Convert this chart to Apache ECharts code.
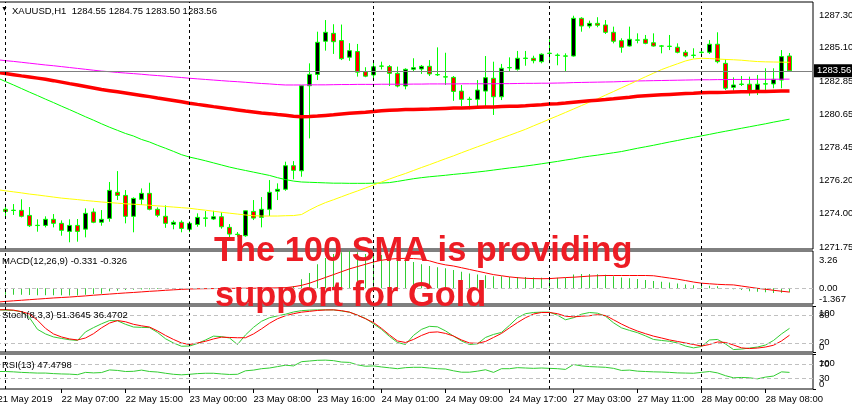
<!DOCTYPE html>
<html><head><meta charset="utf-8">
<script src="https://cdn.jsdelivr.net/npm/echarts/dist/echarts.min.js"></script>
<style>html,body{margin:0;padding:0;background:#fff}#c{width:852px;height:410px}</style>
</head><body><div id="c"></div>
<script>
// ---------- time axis ----------
const sessionDays  = ['21 May','22 May','23 May','24 May','27 May','28 May'];
const sessionHours = [[22,22],[0,22],[0,22],[0,21],[0,18],[0,11]];
const firstLabel = '21 May 2019';
const separatorCats = ['22 May 00:00','23 May 00:00','24 May 00:00','27 May 00:00','28 May 00:00'];
const categories = [];
sessionDays.forEach((d, j) => {
  for (let h = sessionHours[j][0]; h <= sessionHours[j][1]; h++) categories.push(d + ' ' + String(h).padStart(2,'0') + ':00');
});
categories.push(' ', '  '); // chart shift (empty space on the right)

// ---------- XAUUSD H1 candles [open, high, low, close] (from 22 May 00:00) ----------
const ohlc = [
[1274.28,1274.45,1273.74,1274.14],[1274.20,1274.63,1273.90,1274.22],[1274.21,1274.95,1273.74,1273.81],[1273.87,1274.43,1273.09,1273.18],
[1273.19,1273.61,1272.78,1273.21],[1273.20,1273.81,1273.07,1273.61],[1273.61,1273.96,1273.07,1273.34],[1273.34,1273.54,1272.51,1272.87],
[1272.80,1273.61,1272.07,1273.20],[1273.20,1273.63,1272.11,1272.80],[1272.95,1274.34,1272.40,1274.01],[1274.10,1274.34,1273.35,1273.41],
[1273.41,1274.23,1273.18,1273.61],[1273.67,1276.11,1273.45,1275.55],[1275.42,1276.84,1274.90,1275.21],[1275.21,1275.57,1273.34,1273.81],
[1273.81,1275.08,1272.74,1275.01],[1274.95,1275.68,1274.57,1275.35],[1275.35,1276.06,1274.21,1274.28],[1274.28,1274.41,1273.75,1273.88],
[1273.81,1274.54,1273.04,1273.34],[1273.27,1273.54,1272.94,1273.41],[1273.41,1273.54,1272.74,1273.00],[1272.94,1273.47,1272.74,1273.34],
[1273.26,1274.01,1273.11,1273.74],[1273.68,1274.16,1273.11,1273.70],[1273.63,1274.18,1273.56,1273.78],[1273.78,1274.08,1272.98,1273.11],
[1273.07,1273.29,1272.40,1272.62],[1272.61,1272.76,1272.44,1272.59],[1272.51,1274.20,1272.44,1274.18],[1274.14,1274.90,1273.56,1273.69],
[1273.74,1275.10,1273.07,1274.28],[1274.28,1276.24,1273.83,1275.42],[1275.49,1276.02,1274.90,1275.62],[1275.62,1277.47,1275.52,1277.20],
[1277.20,1277.51,1276.29,1276.89],[1276.86,1282.60,1276.46,1282.56],[1282.56,1284.06,1279.03,1283.32],[1283.32,1286.18,1282.94,1285.47],
[1285.54,1286.96,1284.91,1286.14],[1286.07,1286.68,1284.69,1285.51],[1285.59,1286.66,1284.28,1284.37],[1284.47,1285.41,1284.23,1284.91],
[1284.85,1285.36,1283.17,1283.47],[1283.50,1283.80,1283.13,1283.20],[1283.28,1284.14,1283.00,1283.83],[1283.88,1284.17,1283.65,1283.87],
[1283.84,1283.95,1282.54,1283.39],[1283.39,1283.84,1282.45,1282.54],[1282.54,1283.73,1282.32,1283.66],[1283.66,1284.40,1283.50,1283.77],
[1283.68,1283.95,1283.35,1283.86],[1283.86,1284.28,1283.21,1283.35],[1283.31,1285.13,1283.21,1283.29],[1283.16,1284.77,1282.61,1283.14],
[1283.12,1283.21,1281.55,1282.18],[1282.20,1282.61,1281.20,1281.65],[1281.64,1281.82,1280.98,1281.66],[1281.65,1282.94,1281.15,1282.27],
[1282.20,1284.55,1281.20,1283.10],[1283.06,1284.17,1280.60,1281.82],[1281.82,1284.02,1281.60,1283.73],[1283.76,1284.46,1283.50,1283.78],
[1283.66,1284.89,1283.57,1284.40],[1284.39,1284.89,1283.90,1284.41],[1284.40,1284.57,1284.06,1284.24],[1284.17,1284.73,1284.06,1284.67],
[1284.72,1285.67,1284.06,1284.74],[1284.59,1284.73,1283.93,1284.61],[1284.56,1284.73,1283.50,1284.54],[1284.55,1287.25,1284.51,1287.08],
[1287.08,1287.15,1286.18,1286.56],[1286.56,1286.92,1286.41,1286.74],[1286.74,1287.15,1286.48,1286.61],[1286.63,1286.96,1286.03,1286.14],
[1286.14,1286.52,1285.40,1285.54],[1285.58,1285.74,1284.77,1285.14],[1285.22,1286.52,1285.18,1285.67],[1285.61,1286.07,1285.40,1285.63],
[1285.67,1285.96,1285.34,1285.40],[1285.44,1286.07,1285.18,1285.22],[1285.23,1285.29,1284.73,1285.21],[1285.19,1285.96,1284.95,1285.21],
[1285.14,1285.40,1284.73,1284.80],[1284.80,1284.95,1284.46,1284.55],[1284.61,1285.07,1284.40,1284.59],[1284.79,1285.07,1284.69,1284.81],
[1284.80,1285.62,1284.69,1285.34],[1285.34,1286.14,1284.06,1284.17],[1284.06,1284.33,1282.27,1282.39],[1282.45,1283.12,1282.23,1282.61],
[1282.65,1283.21,1282.54,1282.67],[1282.66,1283.17,1281.89,1282.25],[1282.25,1283.28,1281.94,1282.66],[1282.67,1283.73,1282.27,1282.69],
[1282.68,1283.73,1282.39,1282.99],[1282.94,1284.95,1282.39,1284.51],[1284.55,1284.75,1283.50,1283.56]
];
const bidPrice = 1283.56;
const headerText = 'XAUUSD,H1  1284.55 1284.75 1283.50 1283.56';

// ---------- moving averages (from 21 May 22:00) ----------
const maMagenta = [
1284.30,1284.24,1284.19,1284.13,1284.07,1284.01,1283.95,1283.90,1283.84,1283.78,
1283.72,1283.66,1283.60,1283.54,1283.50,1283.45,1283.41,1283.37,1283.33,1283.28,
1283.24,1283.20,1283.15,1283.11,1283.06,1283.02,1282.98,1282.94,1282.90,1282.86,
1282.83,1282.79,1282.75,1282.71,1282.68,1282.64,1282.61,1282.61,1282.61,1282.62,
1282.62,1282.62,1282.63,1282.64,1282.64,1282.65,1282.65,1282.65,1282.66,1282.66,
1282.66,1282.66,1282.67,1282.67,1282.68,1282.68,1282.68,1282.68,1282.69,1282.69,
1282.69,1282.69,1282.69,1282.70,1282.70,1282.71,1282.72,1282.72,1282.73,1282.73,
1282.74,1282.75,1282.77,1282.78,1282.79,1282.80,1282.81,1282.82,1282.84,1282.86,
1282.88,1282.89,1282.90,1282.91,1282.92,1282.93,1282.94,1282.95,1282.96,1282.96,
1282.97,1282.97,1282.98,1282.98,1282.98,1282.99,1282.99,1282.99,1283.00,1283.00];
const sma100 = [
1283.46,1283.38,1283.30,1283.22,1283.15,1283.07,1282.99,1282.90,1282.80,1282.70,
1282.61,1282.51,1282.41,1282.31,1282.23,1282.15,1282.07,1281.99,1281.91,1281.83,
1281.74,1281.66,1281.57,1281.48,1281.39,1281.31,1281.24,1281.16,1281.09,1281.01,
1280.94,1280.86,1280.80,1280.74,1280.69,1280.63,1280.58,1280.52,1280.48,1280.50,
1280.53,1280.57,1280.61,1280.66,1280.71,1280.75,1280.79,1280.84,1280.88,1280.92,
1280.94,1280.96,1280.97,1280.99,1281.00,1281.02,1281.04,1281.06,1281.07,1281.09,
1281.11,1281.13,1281.14,1281.16,1281.18,1281.19,1281.22,1281.26,1281.29,1281.33,
1281.36,1281.40,1281.45,1281.50,1281.55,1281.59,1281.63,1281.68,1281.74,1281.79,
1281.85,1281.89,1281.92,1281.95,1281.98,1282.01,1282.04,1282.06,1282.09,1282.10,
1282.11,1282.12,1282.14,1282.15,1282.16,1282.17,1282.18,1282.19,1282.20,1282.21];
const maGreen = [
1283.08,1282.84,1282.61,1282.37,1282.13,1281.90,1281.66,1281.43,1281.19,1280.96,
1280.72,1280.48,1280.25,1280.01,1279.78,1279.57,1279.36,1279.19,1278.96,1278.79,
1278.57,1278.37,1278.16,1277.94,1277.78,1277.66,1277.53,1277.39,1277.25,1277.11,
1276.99,1276.88,1276.77,1276.66,1276.55,1276.40,1276.27,1276.17,1276.11,1276.09,
1276.07,1276.05,1276.03,1276.03,1276.02,1276.02,1276.02,1276.03,1276.04,1276.07,
1276.15,1276.24,1276.33,1276.40,1276.46,1276.51,1276.56,1276.62,1276.67,1276.72,
1276.78,1276.84,1276.91,1276.98,1277.05,1277.11,1277.18,1277.25,1277.33,1277.41,
1277.49,1277.58,1277.66,1277.76,1277.84,1277.91,1277.99,1278.07,1278.15,1278.26,
1278.37,1278.47,1278.57,1278.68,1278.79,1278.89,1279.00,1279.10,1279.20,1279.30,
1279.41,1279.51,1279.61,1279.71,1279.81,1279.91,1280.01,1280.12,1280.22,1280.32];
const maYellow = [
1275.59,1275.52,1275.45,1275.38,1275.30,1275.24,1275.17,1275.10,1275.03,1274.98,
1274.93,1274.87,1274.82,1274.77,1274.73,1274.69,1274.65,1274.62,1274.59,1274.55,
1274.51,1274.47,1274.43,1274.39,1274.35,1274.28,1274.22,1274.15,1274.08,1274.02,
1273.96,1273.90,1273.85,1273.83,1273.83,1273.83,1273.85,1273.86,1273.93,1274.23,
1274.50,1274.73,1274.92,1275.12,1275.32,1275.51,1275.71,1275.91,1276.11,1276.31,
1276.50,1276.68,1276.88,1277.08,1277.27,1277.47,1277.67,1277.86,1278.07,1278.27,
1278.47,1278.66,1278.86,1279.05,1279.24,1279.44,1279.64,1279.87,1280.09,1280.32,
1280.54,1280.77,1281.00,1281.23,1281.46,1281.68,1281.93,1282.17,1282.42,1282.66,
1282.91,1283.16,1283.40,1283.64,1283.84,1284.03,1284.22,1284.35,1284.40,1284.38,
1284.35,1284.32,1284.30,1284.27,1284.22,1284.18,1284.16,1284.15,1284.14,1284.13];

// ---------- MACD(12,26,9) ----------
const macdMain = [
-0.55,-0.55,-0.55,-0.56,-0.58,-0.60,-0.60,-0.60,-0.60,-0.62,
-0.62,-0.55,-0.50,-0.48,-0.25,-0.20,-0.15,-0.12,-0.10,-0.08,
-0.06,-0.05,-0.05,-0.05,-0.04,-0.04,-0.04,-0.04,-0.05,-0.06,
-0.06,-0.03,-0.02,0.00,0.02,0.05,0.10,0.20,0.80,1.35,
2.10,2.65,3.00,3.15,3.26,3.15,3.00,2.95,2.90,2.80,
2.60,2.45,2.30,2.10,1.95,1.85,1.75,1.60,1.45,1.30,
1.20,1.15,1.05,1.05,1.00,1.00,0.98,0.95,0.93,0.92,
0.92,0.92,1.20,1.25,1.25,1.22,1.18,1.05,0.95,0.88,
0.82,0.72,0.65,0.57,0.50,0.42,0.34,0.28,0.25,0.22,
0.18,0.02,-0.08,-0.15,-0.25,-0.30,-0.35,-0.40,-0.38,-0.331];
const macdSignal = [
-1.20,-1.14,-1.09,-1.04,-0.99,-0.94,-0.89,-0.84,-0.80,-0.76,
-0.71,-0.66,-0.60,-0.55,-0.50,-0.45,-0.40,-0.36,-0.31,-0.26,
-0.22,-0.17,-0.13,-0.09,-0.06,-0.04,-0.03,-0.02,-0.01,0.00,
0.00,0.01,0.01,0.02,0.03,0.04,0.06,0.14,0.26,0.45,
0.70,0.95,1.20,1.45,1.70,1.90,2.10,2.30,2.45,2.55,
2.60,2.62,2.60,2.55,2.40,2.20,2.05,1.95,1.80,1.65,
1.50,1.35,1.20,1.10,1.00,0.93,0.88,0.85,0.84,0.85,
0.90,0.94,0.97,1.02,1.07,1.10,1.12,1.12,1.12,1.12,
1.12,1.12,1.10,1.00,0.90,0.80,0.68,0.55,0.45,0.40,
0.35,0.32,0.30,0.20,0.10,0.00,-0.08,-0.17,-0.25,-0.326];
const macdTicks = [-1.367, 0, 3.26];
const macdTickText = ['-1.367', '0.00', '3.26'];

// ---------- Stochastic(8,3,3) ----------
const stochMain = [
91.6,91,90.3,87.7,74.5,49.2,39.3,32.7,29.5,26.6,
25.1,43.7,53,61.3,68.4,67.9,60.2,54.3,53.6,53,
42.6,28.8,19.6,12.5,13,18.5,26.2,34.5,33.4,30.5,
16.3,37.1,53.6,66.8,74.5,78.5,82.2,87,89.9,91,
91.6,91.6,91.6,89.2,86.6,80,73,61.3,49.2,33.8,
20.7,16.3,36.1,49.2,55.8,54.7,45.9,34.5,24,16.3,
17.8,31.6,38.2,42.6,58,74.5,83.3,85.9,86.6,86.6,
80,70.1,74.5,82.2,85.9,84.4,77.8,63.5,52.5,47,
42,35,27.3,25.1,23.3,19.6,13,9,11.9,26.2,
27.3,17.4,5.3,6.4,8.6,10.8,15.2,25.1,39.3,51.3645];
const stochSignal = [
91.6,92,91,87.7,82.6,69,51.4,39.3,32.7,28.4,
26.2,30.5,39.8,52.5,62.9,68.4,65.7,60.2,56.9,54.3,
45.9,36,27.3,19.6,16.3,19.6,23.3,28.4,32.3,31.6,
31,31,39.3,50.3,62.4,72.3,78.9,83.3,86.6,88.4,
90.3,91.4,91.6,89.9,86.6,80,72.3,64,51.4,37.1,
24,20.7,27.3,36,42.6,43.7,40.4,34.8,26.2,19.6,
18.9,22.9,31.6,40.4,52.5,64,74.5,82.6,85.9,85.9,
83.3,77.8,76.3,77.8,78.9,81.1,79.3,70.1,60.7,52.5,
45.5,39.8,34.5,30.5,26.2,22.9,19.6,16.3,13,16.3,
21.8,20.7,15.2,9,7.5,8.6,10.8,14.7,24,36.4702];
const stochLevels = [20, 80];

// ---------- RSI(13) ----------
const rsi = [
50,50,49,47.5,46.5,45.5,45.5,44,43,42.5,
41,47.5,46,47,54.5,53,50,50.5,54,50,
48.5,45,42,40.5,42,44,45,45,43,41.5,
42,52,54,58,60,64,68,66,78,80,
82,82.5,81,77,76,69,65,66,63,60.5,
58,61,62,62,60,58,57,52,48,48,
51,55,47.5,58,58,61,60,59,60,59,
58,56,70,66,64,63,62,59,53,54,
51,50,49,48.5,47.5,46,45.5,45,47.5,50,
46,38,32,33,32,29,34,37,49,47.4798];
const rsiLevels = [30, 70];
const oscBounds = [0, 100];

const priceTicks = [1271.75, 1274.00, 1276.20, 1278.45, 1280.65, 1282.85, 1285.10, 1287.30];
const priceMin = 1271.62, priceMax = 1288.17;

// ---------- layout / style ----------
const FONT = '"Liberation Sans", Arial, sans-serif';
const FS = 9.5;
const LIME = '#00ff00';
const IND_GREEN = '#32cd32';
const PANES = [
  {top: 2,   height: 247, min: priceMin, max: priceMax, topPad: 0},
  {top: 251, height: 53,  min: -1.367, max: 3.26, topPad: 4},
  {top: 306, height: 46,  min: 0, max: 100, topPad: 2},
  {top: 354, height: 35,  min: 0, max: 100, topPad: 4}
];

const candleData = ['-'].concat(ohlc.map(([o, h, l, c]) => [o, c, l, h]));

const sepLine = {
  symbol: 'none', silent: true, animation: false,
  label: {show: false},
  lineStyle: {color: '#000', type: [3, 3], width: 1},
  data: separatorCats.map(c => ({xAxis: c}))
};
function levelLine(vals) {
  return {
    symbol: 'none', silent: true, animation: false,
    label: {show: false},
    lineStyle: {color: '#c0c0c0', type: [4, 3], width: 1},
    data: vals.map(v => ({yAxis: v}))
  };
}

const grids = PANES.map(p => ({left: -6.5, width: 816, top: p.top, height: p.height, outerBoundsMode: 'none', containLabel: false}))
  .concat(PANES.map(p => ({left: -3, right: 39, top: p.top, height: p.height, show: true, outerBoundsMode: 'none', containLabel: false,
    borderColor: '#000', borderWidth: 1, backgroundColor: 'rgba(0,0,0,0)'})));

const xAxes = [0, 1, 2, 3].map(i => ({
  type: 'category', gridIndex: i, data: categories, boundaryGap: true,
  axisLine: {show: false}, splitLine: {show: false},
  axisTick: i === 3 ? {show: true, interval: 7, alignWithLabel: true, length: 4, lineStyle: {color: '#000'}} : {show: false},
  axisLabel: i === 3 ? {show: true, interval: 7, align: 'left', margin: 5, fontSize: FS, color: '#000', fontFamily: FONT,
    hideOverlap: false, formatter: (v, idx) => idx === 0 ? firstLabel : v} : {show: false}
})).concat([4, 5, 6, 7].map(i => ({type: 'value', gridIndex: i, min: 0, max: 1, show: false})));

// label-only right axes on the frame grids
function scaleAxis(gi, p, ticks, formatter, edge) {
  const ax = {
    type: 'value', gridIndex: gi, min: p.min, max: p.max, position: 'right', offset: 0,
    axisLine: {show: false}, splitLine: {show: false},
    axisTick: {show: true, length: 3, inside: false, customValues: ticks, lineStyle: {color: '#000'}},
    axisLabel: {show: true, customValues: ticks, margin: 6, fontSize: FS, color: '#000', fontFamily: FONT,
      hideOverlap: false, formatter: formatter}
  };
  if (edge) {
    Object.assign(ax.axisLabel, {
      showMinLabel: true, showMaxLabel: true,
      formatter: v => v === p.max ? '{t|' + formatter(v) + '}' : formatter(v),
      rich: {t: {padding: [p.topPad, 0, 0, 0], fontSize: FS, fontFamily: FONT, color: '#000'}},
      verticalAlignMaxLabel: 'top', verticalAlignMinLabel: 'bottom'
    });
  }
  return ax;
}
const yAxes = PANES.map((p, i) => ({type: 'value', gridIndex: i, min: p.min, max: p.max, show: false}))
  .concat([
    scaleAxis(4, PANES[0], priceTicks, v => v.toFixed(2), false),
    scaleAxis(5, PANES[1], macdTicks, v => macdTickText[macdTicks.indexOf(v)], true),
    scaleAxis(6, PANES[2], stochLevels, v => String(v), false),
    scaleAxis(7, PANES[3], rsiLevels, v => String(v), false),
    scaleAxis(6, PANES[2], oscBounds, v => String(v), true),
    scaleAxis(7, PANES[3], oscBounds, v => String(v), true)
  ]);

const lineS = (name, data, xi, color, width, z) => ({
  name, type: 'line', xAxisIndex: xi, yAxisIndex: xi, data, showSymbol: false, symbol: 'none',
  lineStyle: {color, width}, itemStyle: {color}, z: z || 3, animation: false, silent: true
});
const dummy = (gi, ml) => ({
  type: 'line', xAxisIndex: gi, yAxisIndex: gi, data: [[0.5, PANES[gi - 4].min]], symbol: 'none', showSymbol: false,
  lineStyle: {width: 0}, markLine: ml, silent: true, z: 1
});

const titleStyle = {fontSize: FS, fontFamily: FONT, color: '#000', fontWeight: 'normal'};
const bigStyle = {fontSize: 34.4, fontFamily: '"Liberation Sans", Arial, sans-serif', fontWeight: 'bold', color: '#ed1c24'};

const option = {
  animation: false,
  backgroundColor: '#ffffff',
  textStyle: {fontFamily: FONT},
  title: [
    {text: '\u25BC', left: 1, top: 6, padding: 0, textStyle: {fontSize: 7, color: '#000', fontWeight: 'normal'}},
    {text: headerText, left: 12, top: 6, padding: 0, textStyle: titleStyle},
    {text: 'MACD(12,26,9) -0.331 -0.326', left: 2, top: 256, padding: 0, textStyle: titleStyle},
    {text: 'Stoch(8,3,3) 51.3645 36.4702', left: 2, top: 310.5, padding: 0, textStyle: titleStyle},
    {text: 'RSI(13) 47.4798', left: 2, top: 360, padding: 0, textStyle: titleStyle},
    {text: 'The 100 SMA is providing', left: 214, top: 234.5, padding: 0, textStyle: bigStyle, z: 20},
    {text: 'support for Gold', left: 215, top: 280, padding: 0, textStyle: bigStyle, z: 20}
  ],
  grid: grids,
  xAxis: xAxes,
  yAxis: yAxes,
  series: [
    // main pane
    {type: 'candlestick', xAxisIndex: 0, yAxisIndex: 0, data: candleData, barWidth: 5, z: 2, silent: true,
      itemStyle: {color: '#000000', color0: '#ff0000', borderColor: LIME, borderColor0: LIME, borderWidth: 1},
      markLine: sepLine},
    lineS('MA magenta', maMagenta, 0, '#ff00ff', 1),
    lineS('MA green', maGreen, 0, LIME, 1),
    lineS('MA yellow', maYellow, 0, '#ffff00', 1),
    lineS('SMA 100', sma100, 0, '#ff0000', 3.5, 4),
    dummy(4, {symbol: 'none', silent: true, animation: false,
      lineStyle: {color: '#808080', type: 'solid', width: 1},
      data: [{yAxis: bidPrice, label: {show: true, position: 'end', distance: 1, formatter: bidPrice.toFixed(2),
        color: '#fff', backgroundColor: '#000', padding: [2, 4, 1, 3], fontSize: FS, fontFamily: FONT}}]}),
    // MACD
    {type: 'bar', xAxisIndex: 1, yAxisIndex: 1, data: [null].concat(macdMain.slice(1)), barWidth: 1, silent: true,
      itemStyle: {color: IND_GREEN}, markLine: sepLine, animation: false},
    lineS('MACD signal', macdSignal, 1, '#ff0000', 1),
    dummy(5, levelLine([0])),
    // Stochastic
    Object.assign(lineS('Stoch main', stochMain, 2, IND_GREEN, 1), {markLine: sepLine}),
    lineS('Stoch signal', stochSignal, 2, '#ff0000', 1),
    dummy(6, levelLine(stochLevels)),
    // RSI
    Object.assign(lineS('RSI', rsi, 3, IND_GREEN, 1), {markLine: sepLine}),
    dummy(7, levelLine(rsiLevels))
  ]
};

const chart = echarts.init(document.getElementById('c'), null, {renderer: 'canvas'});
chart.setOption(option);
</script></body></html>
